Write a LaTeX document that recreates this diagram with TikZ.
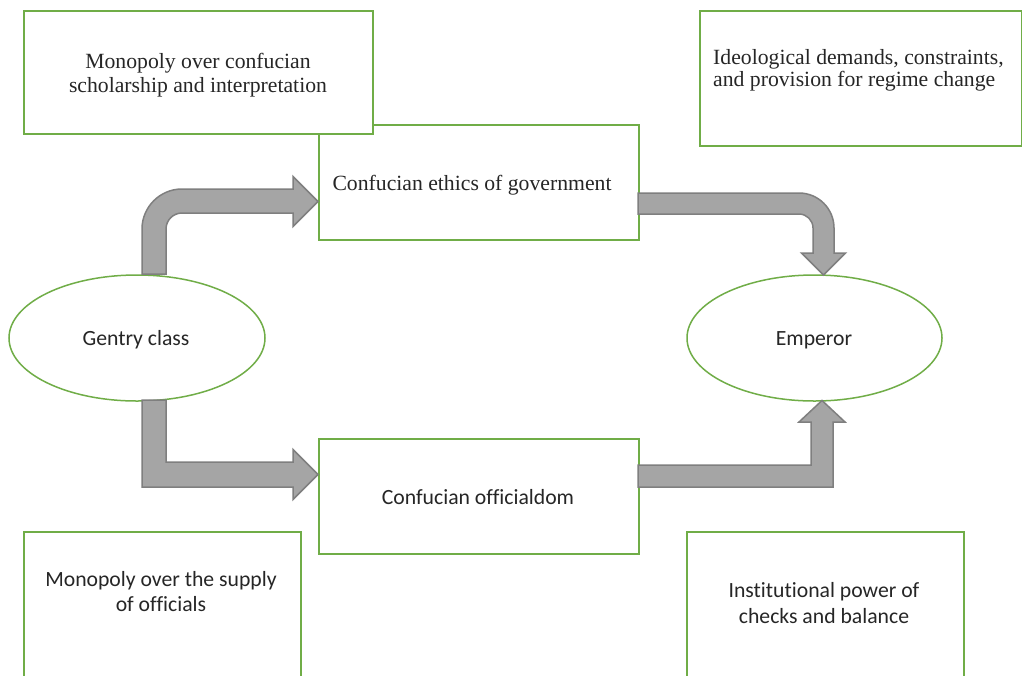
\documentclass[tikz,border=0pt]{standalone}
\usepackage{fontspec}
\setmainfont{Liberation Serif}
\newfontfamily\calfont[Ligatures=NoCommon]{Carlito}
\usetikzlibrary{shapes.geometric}
\definecolor{grn}{HTML}{70AD47}
\definecolor{arrfill}{HTML}{A5A5A5}
\definecolor{arrline}{HTML}{7F7F7F}
\definecolor{txt}{HTML}{262626}
\begin{document}
\begin{tikzpicture}[x=1pt,y=-1pt,
  box/.style={draw=grn, line width=1.5pt, fill=white, inner sep=0pt, anchor=north west},
  blockarrow/.style={draw=arrline, fill=arrfill, line width=1.5pt, line join=miter},
  serif/.style={font=\fontsize{21.7}{25}\selectfont, text=txt, inner sep=0pt, anchor=base},
  sans/.style={font=\calfont\fontsize{21.7}{26.5}\selectfont, text=txt, inner sep=0pt, anchor=base},
  oval/.style={ellipse, draw=grn, line width=1.5pt, fill=white, inner sep=0pt,
    minimum width=256pt, minimum height=126pt}]
\fill[white] (0,0) rectangle (1022,675);
\clip (0,0) rectangle (1022,675);

% boxes
\node[box, minimum width=320pt, minimum height=115pt] (ethics) at (318,124) {};
\node[box, minimum width=349pt, minimum height=123pt] (mono1) at (23,10) {};
\node[box, minimum width=322pt, minimum height=135pt] (ideo) at (699,10) {};
\node[box, minimum width=320pt, minimum height=115pt] (offic) at (318,438) {};
\node[box, minimum width=277pt, minimum height=170pt] (mono2) at (23,531) {};
\node[box, minimum width=277pt, minimum height=170pt] (inst) at (686,531) {};

% ellipses
\node[oval] (gentry) at (137,338) {};
\node[oval, minimum width=255pt] (emperor) at (814.5,338) {};

% texts
\node[serif] (t1a) at (198,68.5) {Monopoly over confucian};
\node[serif] (t1b) at (198,92) {scholarship and interpretation};
\node[serif, anchor=base west] (t2a) at (713,64) {Ideological demands, constraints,};
\node[serif, anchor=base west] (t2b) at (713,86.5) {and provision for regime change};
\node[serif] (t3) at (472,190) {Confucian ethics of government};
\node[sans] (t4) at (478,504) {Confucian officialdom};
\node[sans] (tg) at (136,345) {Gentry class};
\node[sans] (te) at (814,345) {Emperor};
\node[sans] (t5a) at (161,586) {Monopoly over the supply};
\node[sans] (t5b) at (161,611) {of officials};
\node[sans] (t6a) at (824,597) {Institutional power of};
\node[sans] (t6b) at (824,623.5) {checks and balance};

% block arrows
% gentry -> ethics (rounded bend)
\draw[blockarrow] (142,274) -- (142,229) .. controls (142,207) and (160,189) .. (182,189)
  -- (293,189) -- (293,176.5) -- (318,201.5) -- (293,226.5) -- (293,213)
  -- (182,213) .. controls (173.2,213) and (166,220.2) .. (166,229) -- (166,274) -- cycle;
% gentry -> officialdom (square bend)
\draw[blockarrow] (142,400) -- (142,487) -- (293,487) -- (293,499.5) -- (318,474.5)
  -- (293,449.5) -- (293,462) -- (166,462) -- (166,400) -- cycle;
% ethics -> emperor (rounded bend)
\draw[blockarrow] (638,193) -- (799,193) .. controls (818.3,193) and (834,208.7) .. (834,228)
  -- (834,253) -- (845.5,253) -- (823.5,275) -- (801.5,253) -- (813,253) -- (813,228)
  .. controls (813,220.3) and (806.7,214) .. (799,214) -- (638,214) -- cycle;
% officialdom -> emperor (square bend)
\draw[blockarrow] (638,465) -- (811,465) -- (811,422) -- (799,422) -- (822,400.5)
  -- (845,422) -- (833,422) -- (833,487) -- (638,487) -- cycle;
\end{tikzpicture}
\end{document}
